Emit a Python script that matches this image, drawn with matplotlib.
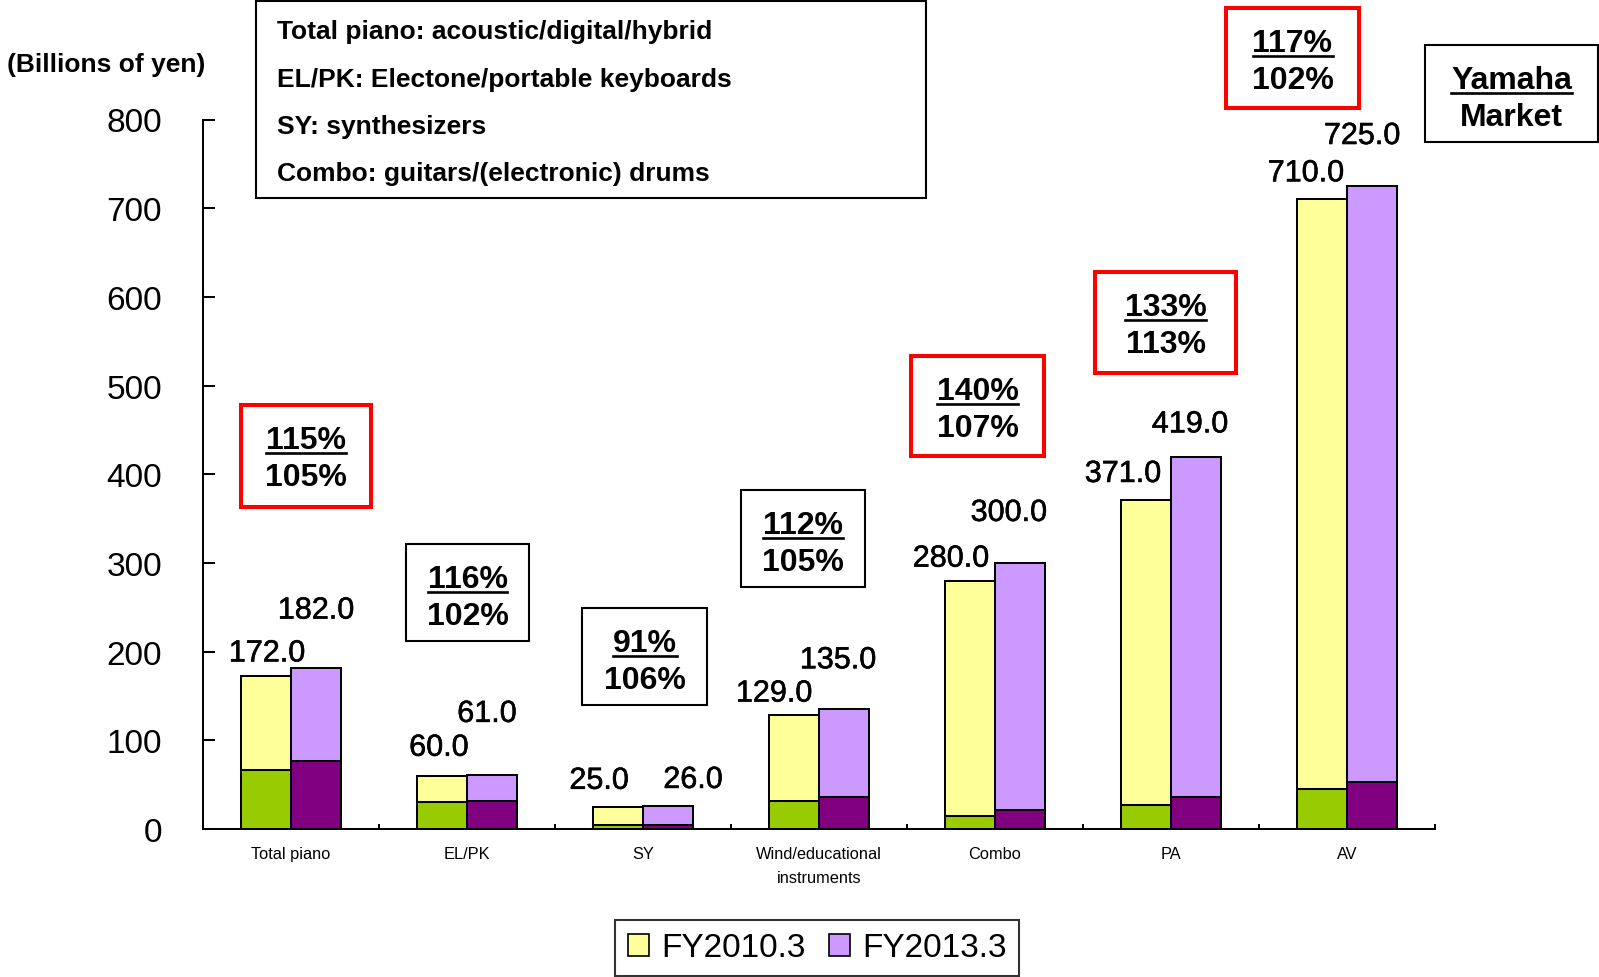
import matplotlib
matplotlib.use("Agg")
import matplotlib.pyplot as plt
import matplotlib.patheffects as pe
from matplotlib.patches import Rectangle
from matplotlib.lines import Line2D
import numpy as np

plt.rcParams['font.family'] = ['Liberation Sans', 'DejaVu Sans']

# ---- data (billions of yen) ----
categories = ["Total piano", "EL/PK", "SY", "Wind/educational\ninstruments",
              "Combo", "PA", "AV"]
market_2010 = [172.0, 60.0, 25.0, 129.0, 280.0, 371.0, 710.0]
market_2013 = [182.0, 61.0, 26.0, 135.0, 300.0, 419.0, 725.0]
yamaha_2010 = [67.0, 30.0, 5.0, 32.0, 15.0, 27.0, 45.0]
yamaha_2013 = [77.0, 32.0, 4.5, 36.0, 21.0, 36.0, 52.5]
yamaha_growth = ["115%", "116%", "91%", "112%", "140%", "133%", "117%"]
market_growth = ["105%", "102%", "106%", "105%", "107%", "113%", "102%"]
series_labels = ["FY2010.3", "FY2013.3"]
y_ticks = [0, 100, 200, 300, 400, 500, 600, 700, 800]
notes = ["Total piano: acoustic/digital/hybrid",
         "EL/PK: Electone/portable keyboards",
         "SY: synthesizers",
         "Combo: guitars/(electronic) drums"]

# ---- layout (pixels) ----
W, H = 1599, 978
DPI = 100
# value-label offsets from the top centre of each bar
off_2010 = [(1, 23), (-3, 28), (-19, 26), (-20, 21), (-19, 22), (-23, 26), (-16, 26)]
off_2013 = [(0, 57), (-5, 61), (25, 26), (-6, 49), (-11, 50), (-6, 33), (-10, 50)]
# growth boxes: left, top, right, bottom, edge colour
growth_boxes = [(241, 406, 371, 508, 'red'), (406, 545, 529, 642, 'black'),
                (582, 609, 707, 706, 'black'), (741, 491, 865, 588, 'black'),
                (911, 357, 1044, 457, 'red'), (1095, 273, 1236, 374, 'red'),
                (1226, 9, 1359, 109, 'red')]

c_yel, c_pur = '#FFFF99', '#CC99FF'
c_grn, c_dpur = '#99CC00', '#800080'


def fx(x):
    return x / W


def fy(y):
    return 1 - y / H


fig = plt.figure(figsize=(W / DPI, H / DPI), dpi=DPI)
ax = fig.add_axes([fx(203), fy(830), (1435 - 203) / W, (830 - 120.5) / H])

x = np.arange(len(categories))
bw = 50 / 176
lw_bar = 1.45

m10 = np.array(market_2010)
m13 = np.array(market_2013)
y10 = np.array(yamaha_2010)
y13 = np.array(yamaha_2013)

ax.bar(x - bw / 2, y10, bw, color=c_grn, edgecolor='black', linewidth=lw_bar, zorder=3)
ax.bar(x - bw / 2, m10 - y10, bw, bottom=y10, color=c_yel, edgecolor='black',
       linewidth=lw_bar, zorder=3)
ax.bar(x + bw / 2, y13, bw, color=c_dpur, edgecolor='black', linewidth=lw_bar, zorder=3)
ax.bar(x + bw / 2, m13 - y13, bw, bottom=y13, color=c_pur, edgecolor='black',
       linewidth=lw_bar, zorder=3)

heavy = [pe.withStroke(linewidth=0.4, foreground='black')]
for i in range(len(categories)):
    ax.annotate(f"{market_2010[i]:.1f}", (x[i] - bw / 2, market_2010[i]),
                xytext=off_2010[i], textcoords='offset pixels',
                ha='center', va='center', fontsize=22, zorder=5,
                path_effects=heavy)
    ax.annotate(f"{market_2013[i]:.1f}", (x[i] + bw / 2, market_2013[i]),
                xytext=off_2013[i], textcoords='offset pixels',
                ha='center', va='center', fontsize=22, zorder=5,
                path_effects=heavy)

ax.set_xlim(-0.5, len(categories) - 0.5)
ax.set_ylim(0, 800)
ax.set_yticks(y_ticks)
ax.set_yticklabels([str(v) for v in y_ticks])
ax.tick_params(axis='y', direction='in', length=8.6, width=1.45, pad=29.5,
               labelsize=24)
ax.set_xticks(x)
ax.set_xticklabels(categories, fontsize=11.8, linespacing=1.75)
ax.tick_params(axis='x', which='major', length=0, pad=12)
ax.set_xticks(np.arange(0.5, len(categories) + 0.5, 1.0), minor=True)
ax.tick_params(axis='x', which='minor', direction='in', length=3.6, width=1.45)
for s in ['top', 'right']:
    ax.spines[s].set_visible(False)
for s in ['left', 'bottom']:
    ax.spines[s].set_linewidth(1.45)
ax.spines['bottom'].set_zorder(4)

# unit label
fig.text(fx(7), fy(72), "(Billions of yen)", fontsize=19, fontweight='bold',
         ha='left', va='baseline')

# notes box
fig.add_artist(Rectangle((fx(256), fy(199)), (926 - 256) / W, (199 - 2) / H,
                         transform=fig.transFigure, fill=False,
                         edgecolor='black', linewidth=1.5))
for k, line in enumerate(notes):
    fig.text(fx(277), fy(39 + 47.5 * k), line, fontsize=19, fontweight='bold',
             ha='left', va='baseline')

underlines = []


def two_line_box(left, top, right, bottom, ecolor, upper, lower):
    lw = 2.9 if ecolor == 'red' else 1.5
    fig.add_artist(Rectangle((fx(left), fy(bottom)), (right - left) / W,
                             (bottom - top) / H, transform=fig.transFigure,
                             fill=False, edgecolor=ecolor, linewidth=lw))
    cx = (left + right) / 2
    t1 = fig.text(fx(cx), fy(top + 43), upper, fontsize=23, fontweight='bold',
                  ha='center', va='baseline')
    fig.text(fx(cx), fy(top + 80), lower, fontsize=23, fontweight='bold',
             ha='center', va='baseline')
    underlines.append((t1, top + 47.5))


for i, (l, t, r, b, c) in enumerate(growth_boxes):
    two_line_box(l, t, r, b, c, yamaha_growth[i], market_growth[i])

two_line_box(1425, 46, 1598, 143, 'black', "Yamaha", "Market")

# underline the upper (Yamaha) line of each box
fig.canvas.draw()
renderer = fig.canvas.get_renderer()
for t, uy in underlines:
    bb = t.get_window_extent(renderer)
    fig.add_artist(Line2D([bb.x0 / W, bb.x1 / W], [fy(uy), fy(uy)],
                          transform=fig.transFigure, color='black',
                          linewidth=1.9))

# legend
handles = [Rectangle((0, 0), 1, 1, facecolor=c_yel, edgecolor='black', linewidth=1.2),
           Rectangle((0, 0), 1, 1, facecolor=c_pur, edgecolor='black', linewidth=1.2)]
leg = fig.legend(handles, series_labels, loc='center',
                 bbox_to_anchor=(fx(817), fy(949)), ncol=2, fontsize=24,
                 frameon=True, fancybox=False, shadow=False, borderpad=0.38,
                 handlelength=0.65, handleheight=0.65, handletextpad=0.35,
                 columnspacing=0.7, borderaxespad=0)
leg.get_frame().set_edgecolor('black')
leg.get_frame().set_linewidth(1.5)

fig.savefig("out.png", dpi=DPI)
